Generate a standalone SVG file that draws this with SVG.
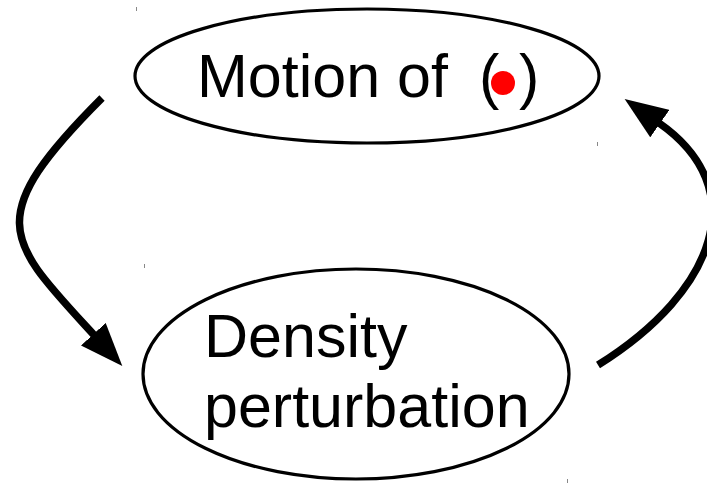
<svg xmlns="http://www.w3.org/2000/svg" width="707" height="483" viewBox="0 0 707 483">
<style>
.node{fill:none;stroke:#000;stroke-width:3.2}
.lbl{font-family:"Liberation Sans",Arial,sans-serif;font-size:61px;fill:#000}
.conn{fill:none;stroke:#000;stroke-width:7.5}
.speck{fill:#888}
</style>
<defs>
<marker id="ah" markerUnits="userSpaceOnUse" markerWidth="44" markerHeight="34" refX="1" refY="16" orient="auto" viewBox="0 0 42 32">
<path d="M0,0 L41,16 L0,32 z" fill="#000"/>
</marker>
</defs>
<rect width="707" height="483" fill="#fff"/>
<g id="motion">
<ellipse class="node" cx="367" cy="76" rx="232" ry="67"/>
<text class="lbl" x="197" y="97">Motion of</text>
<text class="lbl" x="479" y="97">(</text>
<text class="lbl" x="519" y="97">)</text>
<circle cx="503" cy="83" r="12" fill="#f00"/>
</g>
<g id="density">
<ellipse class="node" cx="356" cy="374" rx="213" ry="105"/>
<text class="lbl" x="204" y="357">Density</text>
<text class="lbl" x="204" y="427">perturbation</text>
</g>
<g id="connectors">
<path class="conn" d="M102,98 C-20,220 7,240 94,335" marker-end="url(#ah)"/>
<path class="conn" d="M598,365 C718,290 752,188 659,123" marker-end="url(#ah)"/>
</g>
<g id="specks">
<rect class="speck" x="136" y="7" width="1" height="4"/>
<rect class="speck" x="597" y="142" width="1" height="4"/>
<rect class="speck" x="144" y="264" width="1" height="4"/>
<rect class="speck" x="567" y="479" width="1" height="4"/>
</g>
</svg>
